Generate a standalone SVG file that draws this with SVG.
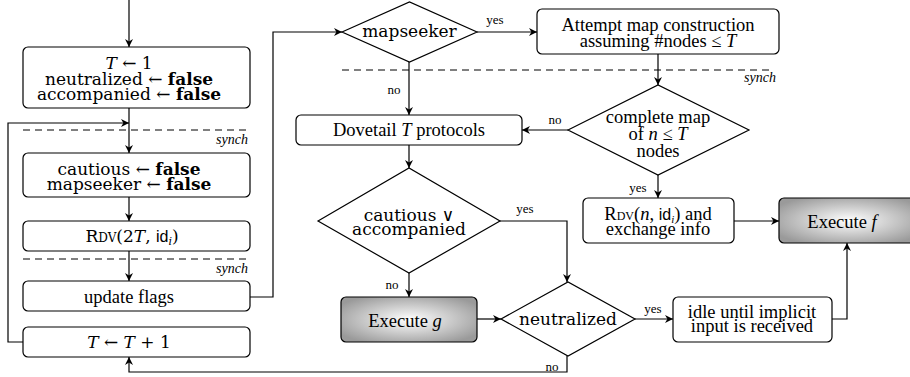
<svg xmlns="http://www.w3.org/2000/svg" width="910" height="377" viewBox="0 0 910 377">
<style>
.box{fill:#fff;stroke:#000;stroke-width:1.2}
.ex{fill:url(#gr);stroke:#000;stroke-width:1.2}
.dia{fill:#fff;stroke:#000;stroke-width:1.2}
.arr{fill:none;stroke:#000;stroke-width:1.2;marker-end:url(#ah)}
.dash{fill:none;stroke:#000;stroke-width:1;stroke-dasharray:7,5}
text{font-family:"Liberation Serif","DejaVu Serif",serif;fill:#000}
.t{font-family:"DejaVu Serif","Liberation Serif",serif;font-size:17px;text-anchor:middle}
.s{font-size:18.5px;text-anchor:middle}
.lab{font-size:13px;text-anchor:middle}
.syn{font-size:14px;font-style:italic;text-anchor:end}
.i{font-style:italic}
.b{font-weight:bold}
.sc{font-size:12px}
.sf{font-family:"Liberation Sans","DejaVu Sans",sans-serif;font-size:16px}
.sub{font-size:11px;font-style:italic}
</style>
<defs>
<radialGradient id="gr" cx="0.5" cy="0.5" r="0.6">
<stop offset="0" stop-color="#ffffff"/>
<stop offset="1" stop-color="#9a9a9a"/>
</radialGradient>
<marker id="ah" viewBox="0 0 10 10" refX="10" refY="5" markerWidth="8" markerHeight="8" markerUnits="userSpaceOnUse" orient="auto">
<path d="M0,0 L10,5 L0,10 L3,5 Z" fill="#000"/>
</marker>
</defs>

<g id="connectors">
<path class="arr" d="M129,0 V47"/>
<path class="arr" d="M129,108 V153"/>
<path class="arr" d="M23,342 H8 V123 H129"/>
<path class="arr" d="M129,197 V221"/>
<path class="arr" d="M129,251 V281"/>
<path class="arr" d="M250,297 H273 V32 H342"/>
<path class="arr" d="M477,32 H537"/>
<path class="arr" d="M409,62 V115"/>
<path class="arr" d="M658,54 V85"/>
<path class="arr" d="M568,130 H522"/>
<path class="arr" d="M658,175 V198"/>
<path class="arr" d="M734,221 H779"/>
<path class="arr" d="M409,145 V168"/>
<path class="arr" d="M500,221 H567 V282"/>
<path class="arr" d="M409,273 V297"/>
<path class="arr" d="M477,319 H501"/>
<path class="arr" d="M635,319 H673"/>
<path class="arr" d="M832,319 H847 V243"/>
<path class="arr" d="M567,356 V372 H129 V357"/>
<path class="dash" d="M23,130 H250"/>
<path class="dash" d="M23,259 H250"/>
<path class="dash" d="M342,70 H772"/>
<text class="syn" x="248" y="144">synch</text>
<text class="syn" x="248" y="273">synch</text>
<text class="syn" x="776" y="82">synch</text>
<text class="lab" x="495" y="24">yes</text>
<text class="lab" x="394" y="94">no</text>
<text class="lab" x="555" y="124">no</text>
<text class="lab" x="638" y="192">yes</text>
<text class="lab" x="525" y="213">yes</text>
<text class="lab" x="392" y="289">no</text>
<text class="lab" x="653" y="313">yes</text>
<text class="lab" x="552" y="371">no</text>
</g>

<g id="init">
<rect class="box" x="23" y="47" width="227" height="61" rx="5"/>
<text class="t" x="129" y="69"><tspan class="i">T</tspan> ← 1</text>
<text class="t" x="129" y="85">neutralized ← <tspan class="b">false</tspan></text>
<text class="t" x="129" y="100">accompanied ← <tspan class="b">false</tspan></text>
</g>
<g id="reset">
<rect class="box" x="23" y="153" width="227" height="44" rx="5"/>
<text class="t" x="129" y="175">cautious ← <tspan class="b">false</tspan></text>
<text class="t" x="129" y="190">mapseeker ← <tspan class="b">false</tspan></text>
</g>
<g id="rdv">
<rect class="box" x="23" y="221" width="227" height="30" rx="5"/>
<text class="t" x="132" y="242">R<tspan class="sc">DV</tspan>(2<tspan class="i">T</tspan>, <tspan class="sf">id</tspan><tspan class="sub" dy="3">i</tspan><tspan dy="-3">)</tspan></text>
</g>
<g id="update">
<rect class="box" x="23" y="281" width="227" height="30" rx="5"/>
<text class="s" x="129" y="303">update flags</text>
</g>
<g id="inc">
<rect class="box" x="23" y="327" width="227" height="30" rx="5"/>
<text class="t" x="129" y="348"><tspan class="i">T</tspan> ← <tspan class="i">T</tspan> + 1</text>
</g>
<g id="mapseeker">
<polygon class="dia" points="342,32 409.5,2 477,32 409.5,62"/>
<text class="t" x="409.5" y="37">mapseeker</text>
</g>
<g id="attempt">
<rect class="box" x="537" y="9" width="242" height="45" rx="5"/>
<text class="s" x="658" y="31">Attempt map construction</text>
<text class="s" x="658" y="47">assuming #nodes ≤ <tspan class="i">T</tspan></text>
</g>
<g id="dovetail">
<rect class="box" x="296" y="115" width="226" height="30" rx="5"/>
<text class="s" x="409" y="136">Dovetail <tspan class="i">T</tspan> protocols</text>
</g>
<g id="complete">
<polygon class="dia" points="568,130 658,85 749,130 658,175"/>
<text class="s" x="658" y="123">complete map</text>
<text class="s" x="658" y="140">of <tspan class="i">n</tspan> ≤ <tspan class="i">T</tspan></text>
<text class="s" x="658" y="157">nodes</text>
</g>
<g id="cautious">
<polygon class="dia" points="318,221 409,168 500,221 409,273"/>
<text class="t" x="409" y="221">cautious ∨</text>
<text class="t" x="409" y="235">accompanied</text>
</g>
<g id="rdvn">
<rect class="box" x="583" y="198" width="151" height="45" rx="5"/>
<text class="s" x="658" y="220">R<tspan class="sc">DV</tspan>(<tspan class="i">n</tspan>, <tspan class="sf">id</tspan><tspan class="sub" dy="3">i</tspan><tspan dy="-3">) and</tspan></text>
<text class="s" x="658" y="235">exchange info</text>
</g>
<g id="execf">
<rect class="ex" x="779" y="198" width="140" height="45" rx="5"/>
<text class="s" x="842" y="228">Execute  <tspan class="i">f</tspan></text>
</g>
<g id="execg">
<rect class="ex" x="341" y="297" width="136" height="45" rx="5"/>
<text class="s" x="405" y="327">Execute  <tspan class="i">g</tspan></text>
</g>
<g id="neutralized">
<polygon class="dia" points="501,319 568,282 635,319 568,356"/>
<text class="t" x="568" y="325">neutralized</text>
</g>
<g id="idle">
<rect class="box" x="673" y="297" width="159" height="45" rx="5"/>
<text class="s" x="752" y="318">idle until implicit</text>
<text class="s" x="752" y="332">input is received</text>
</g>
</svg>
